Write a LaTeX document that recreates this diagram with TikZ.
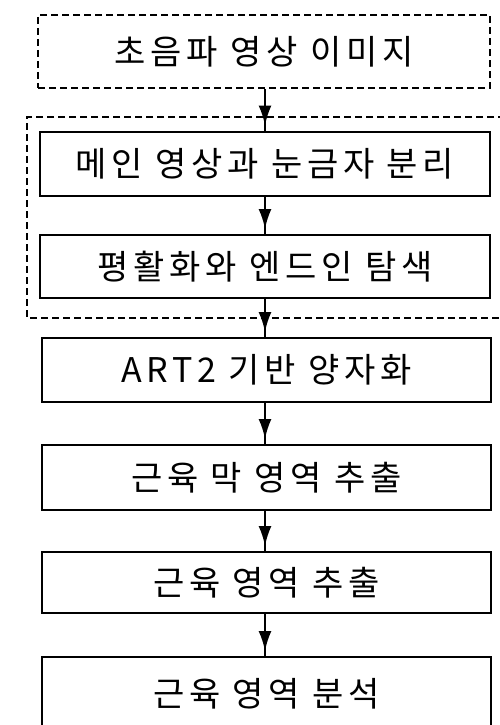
\documentclass[tikz,border=0pt]{standalone}
\usepackage{fontspec}
\setmainfont{Noto Sans CJK KR}[LetterSpace=14]
\usetikzlibrary{arrows.meta,decorations.markings}
\begin{document}
\begin{tikzpicture}[x=1pt,y=-1pt,
  stepbox/.style={draw=black,line width=2pt,minimum width=450pt,minimum height=64pt,inner sep=0pt,font=\fontsize{34}{38}\selectfont},
  dashbox/.style={draw=black,line width=2pt,dash pattern=on 7pt off 4pt},
  conn/.style={line width=2.2pt,postaction={decorate},decoration={markings,mark=at position -5pt with {\arrow{Latex[length=20pt,width=13pt]}}}}]
\useasboundingbox (0,0) rectangle (500,725);
\clip (0,0) rectangle (500,725);
\node[stepbox,dashbox,minimum width=452pt,minimum height=73pt] (t) at (264,51.5) {초음파 영상 이미지};
\draw[dashbox] (505,117) -- (27,117) -- (27,318) -- (505,318);
\node[stepbox] (b1) at (265,163.5) {메인 영상과 눈금자 분리};
\node[stepbox,minimum height=63pt] (b2) at (265,266.5) {평활화와 엔드인 탐색};
\node[stepbox,minimum width=449pt] (b3) at (266.5,370) {ART2 기반 양자화};
\node[stepbox,minimum width=449pt,minimum height=65pt] (b4) at (266.5,477.5) {근육 막 영역 추출};
\node[stepbox,minimum width=449pt,minimum height=61pt] (b5) at (266.5,582.5) {근육 영역 추출};
\node[stepbox,minimum width=449pt,minimum height=74pt] (b6) at (266.5,694) {근육 영역 분석};
\draw[conn] (t.south -| 265,0) -- (b1.north -| 265,0);
\draw[conn] (b1.south -| 265,0) -- (b2.north -| 265,0);
\draw[conn] (b2.south -| 265,0) -- (b3.north -| 265,0);
\draw[conn] (b3.south -| 265,0) -- (b4.north -| 265,0);
\draw[conn] (b4.south -| 265,0) -- (b5.north -| 265,0);
\draw[conn] (b5.south -| 265,0) -- (b6.north -| 265,0);
\end{tikzpicture}
\end{document}
